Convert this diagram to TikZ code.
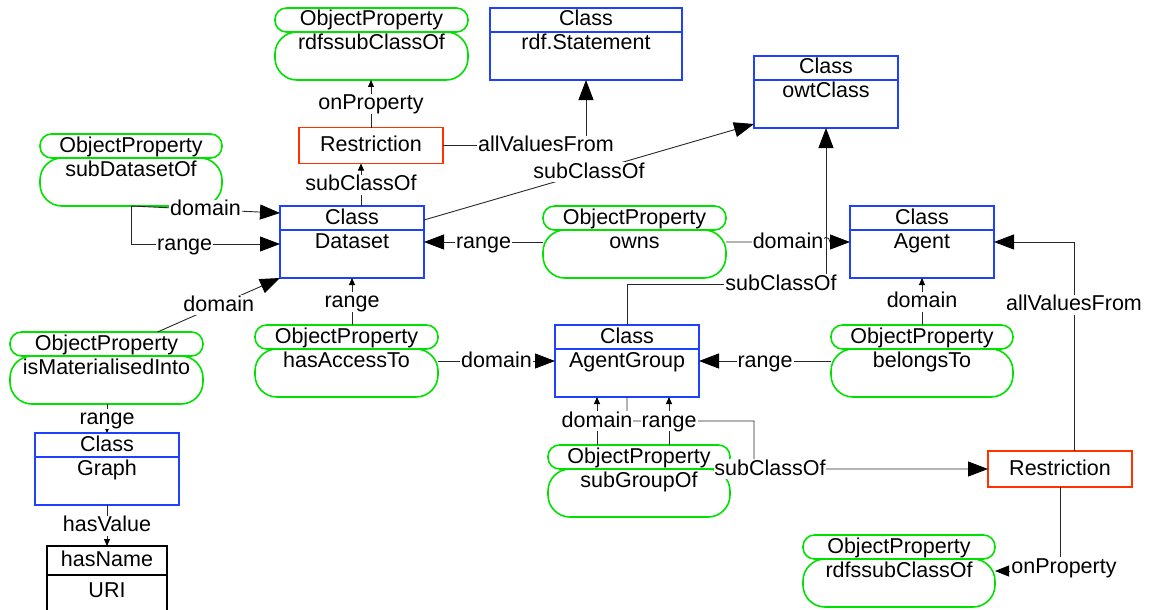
\documentclass[tikz,border=0pt]{standalone}
\usepackage{fontspec}
\setmainfont{Liberation Sans}
\usetikzlibrary{arrows.meta,calc}
\definecolor{clsblue}{RGB}{30,64,255}
\definecolor{opgreen}{RGB}{0,225,0}
\definecolor{resred}{RGB}{255,51,0}
\definecolor{edgegray}{RGB}{40,40,40}
\newcommand{\clsnode}[4][144pt]{%
  \node[clsbox, minimum width=#1] (#2) at (#3) {#4};
  \draw[draw=clsblue, line width=1.6pt] ([yshift=-24pt]#2.north west) -- ([yshift=-24pt]#2.north east);
  \node (#2-t) at ([yshift=-12pt]#2.north) {Class};}
\newcommand{\opnode}[4]{%
  \node[minimum width=#3, minimum height=72pt, outer sep=0pt] (#1) at (#2) {#4};
  \draw[opline, rounded corners=11.5pt] (#1.north west) rectangle ([yshift=-24pt]#1.north east);
  \draw[opline, rounded corners=22pt] ([yshift=-24pt]#1.north west) rectangle (#1.south east);
  \node (#1-t) at ([yshift=-12pt]#1.north) {ObjectProperty};}
\begin{document}
\begin{tikzpicture}[x=1pt,y=-1pt,
 every node/.style={font=\fontsize{21.5}{24}\selectfont, text height=16pt, text depth=4pt, inner sep=0pt},
 clsbox/.style={draw=clsblue, line width=1.6pt, minimum width=144pt, minimum height=72pt, outer sep=0pt},
 opline/.style={draw=opgreen, line width=1.6pt},
 restrbox/.style={draw=resred, line width=1.6pt, minimum width=144pt, minimum height=36pt, outer sep=0pt},
 namebox/.style={draw=black, line width=1.6pt, minimum width=120pt, minimum height=90pt, outer sep=0pt},
 conn/.style={draw=edgegray, line width=0.9pt},
 bigtip/.style={-{Triangle[length=20pt,width=15pt,fill=black,color=black]}},
 smalltip/.style={-{Triangle[length=7pt,width=6pt,fill=black,color=black]}},
 midtip/.style={-{Triangle[length=14pt,width=11pt,fill=black,color=black]}},
 lbl/.style={fill=white, inner xsep=1pt}
]
\useasboundingbox (0,0) rectangle (1149,610);

% nodes
\opnode{opsc1}{371.5,44}{193pt}{rdfssubClassOf}
\clsnode[192pt]{rdfstmt}{586,44}{rdf.Statement}
\clsnode{owlcls}{826,92}{owtClass}
\node[restrbox] (restr1) at (371,145.5) {Restriction};
\opnode{opsds}{131,170}{182pt}{subDatasetOf}
\clsnode{dataset}{352,242}{Dataset}
\opnode{opowns}{634.5,242}{183pt}{owns}
\clsnode{agent}{922,242}{Agent}
\opnode{opism}{106.5,368}{193pt}{isMaterialisedInto}
\opnode{ophas}{346.5,361}{183pt}{hasAccessTo}
\clsnode{agentgroup}{627,361}{AgentGroup}
\opnode{opbel}{922,361}{182pt}{belongsTo}
\clsnode{graph}{107,469}{Graph}
\opnode{opsgrp}{639,481}{182pt}{subGroupOf}
\node[restrbox] (restr2) at (1060,469) {Restriction};
\node[namebox] (uri) at (107,591) {URI};
\draw[line width=1.6pt] ([yshift=-29pt]uri.north west) -- ([yshift=-29pt]uri.north east);
\node (uri-t) at ([yshift=-14.5pt]uri.north) {hasName};
\opnode{opsc2}{899,571}{192pt}{rdfssubClassOf}

% connectors
\draw[conn, smalltip] (restr1.north) -- (restr1.north |- opsc1.south) node[lbl, midway] {onProperty};
\coordinate (ds1) at ([xshift=9pt]dataset.north);
\draw[conn, smalltip] (ds1) -- (ds1 |- restr1.south) node[lbl, midway] {subClassOf};
\draw[conn, bigtip] (restr1.east) -| (rdfstmt.south) node[lbl, pos=0.36] {allValuesFrom};
\draw[conn, bigtip] ([yshift=22pt]dataset.east) -- ([yshift=4pt]owlcls.south west) node[lbl, midway] {subClassOf};
\draw[conn, bigtip] (opsds.south) -- ([yshift=29pt]dataset.west) node[lbl, midway] {domain};
\draw[conn, bigtip] (opsds.south) |- ([yshift=-2pt]dataset.west) node[lbl, pos=0.68] {range};
\draw[conn, bigtip] ([xshift=51pt]opism.north) -- (dataset.south west) node[lbl, midway] {domain};
\draw[conn, smalltip] (dataset.south |- ophas.north) -- (dataset.south) node[lbl, midway] {range};
\draw[conn, bigtip] (opowns.west) -- (dataset.east) node[lbl, midway] {range};

\coordinate (jA) at (owlcls.south |- agent.west);
\draw[conn, bigtip] (opowns.east) -- ([xshift=-4pt]jA) .. controls +(0pt,6pt) and +(0pt,6pt) .. ([xshift=4pt]jA) -- (agent.west);
\node[lbl] (l-owns-dom) at ($(opowns.east)!0.5!(agent.west)$) {domain};

\coordinate (kB) at (owlcls.south |- agent.south);
\coordinate (kA) at ([yshift=-6pt]kB);
\draw[conn, bigtip] (agentgroup.north) |- (kA) -- (owlcls.south);
\node[lbl] (l-ag-sub) at ([xshift=-45pt]kA) {subClassOf};

\draw[conn, smalltip] (opbel.north) -- (agent.south) node[lbl, midway] {domain};
\draw[conn, bigtip] (opbel.west) -- (agentgroup.east) node[lbl, midway] {range};
\draw[conn, bigtip] (ophas.east) -- (agentgroup.west) node[lbl, midway] {domain};
\draw[conn, smalltip] (graph.north |- opism.south) -- (graph.north) node[lbl, midway] {range};
\draw[conn, smalltip] (graph.south) -- (uri.north) node[lbl, midway] {hasValue};

\coordinate (gd) at ([xshift=-30pt]agentgroup.south);
\coordinate (gr) at ([xshift=42pt]agentgroup.south);
\coordinate (m1) at ([yshift=-24pt]agentgroup.south);
\coordinate (e1) at ([xshift=24pt]opsgrp.east);
\coordinate (jB) at (gr |- m1);
\draw[conn, bigtip] (agentgroup.south) -- (m1) -- ([xshift=-4pt]jB) .. controls +(0pt,6pt) and +(0pt,6pt) .. ([xshift=4pt]jB) -- (e1 |- m1) -- (e1 |- restr2.west) -- (restr2.west);
\draw[conn, smalltip] (gd |- opsgrp.north) -- (gd) node[lbl, midway] {domain};
\draw[conn, smalltip] (gr |- opsgrp.north) -- (gr) node[lbl, midway] {range};
\coordinate (sgc) at (e1 |- restr2.west);
\node[lbl, inner xsep=0pt] (l-sg-sub) at ([xshift=16pt]sgc) {subClassOf};

\coordinate (a1) at ([xshift=14pt]restr2.north);
\draw[conn, bigtip] (a1) |- (agent.east) node[lbl, pos=0.35] {allValuesFrom};

\coordinate (c21) at (restr2.south |- opsc2.east);
\draw[conn, midtip] (restr2.south) |- (opsc2.east);
\node[lbl] (l-onprop2) at ([xshift=4pt,yshift=4pt]c21) {onProperty};
\end{tikzpicture}
\end{document}
